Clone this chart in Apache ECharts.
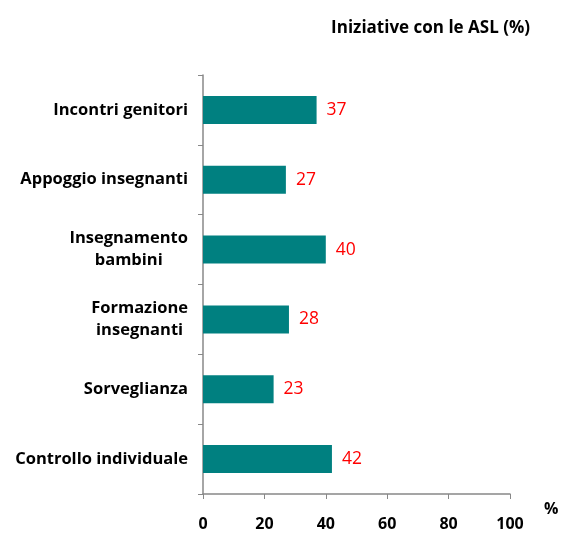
<!DOCTYPE html>
<html><head><meta charset="utf-8">
<script src="https://cdn.jsdelivr.net/npm/echarts@6/dist/echarts.min.js"></script>
<style>html,body{margin:0;padding:0;background:#fff;overflow:hidden}#c{width:562px;height:533px}</style>
</head><body><div id="c"></div>
<script>
const categories = ["Incontri genitori", "Appoggio insegnanti", "Insegnamento\nbambini", "Formazione\ninsegnanti", "Sorveglianza", "Controllo individuale"];
const values = [37, 27, 40, 28, 23, 42];
const xTicks = [0, 20, 40, 60, 80, 100];
const titleText = "Iniziative con le ASL (%)";
const axisUnit = "%";

const chart = echarts.init(document.getElementById('c'), null, {renderer: 'canvas', width: 562, height: 533});
const font = '"Open Sans", sans-serif';
chart.setOption({
  animation: false,
  title: {text: titleText, right: 27, top: 15, textStyle: {fontFamily: font, fontWeight: 'bold', fontSize: 17, color: '#000'}},
  grid: {left: 203, right: 52, top: 75, bottom: 39, containLabel: false, outerBoundsMode: 'none'},
  xAxis: {
    type: 'value', min: xTicks[0], max: xTicks[xTicks.length-1], interval: 20,
    name: axisUnit, nameLocation: 'end', nameGap: 0,
    nameTextStyle: {fontFamily: font, fontWeight: 'bold', fontSize: 16, color: '#000', align: 'left', verticalAlign: 'top', padding: [7, 0, 0, 34]},
    axisLine: {show: true, lineStyle: {color: '#888', width: 1.5}},
    axisTick: {show: true, length: 5, lineStyle: {color: '#888'}},
    splitLine: {show: false},
    axisLabel: {fontFamily: font, fontWeight: 'bold', fontSize: 16, color: '#000', margin: 22}
  },
  yAxis: {
    type: 'category', data: categories, inverse: true,
    axisLine: {show: true, lineStyle: {color: '#888', width: 1.5}},
    axisTick: {show: true, length: 5, inside: false, lineStyle: {color: '#888'}},
    axisLabel: {
      fontFamily: font, fontWeight: 'bold', fontSize: 16.5, color: '#000', margin: 15, align: 'right', lineHeight: 22,
      formatter: v => v.split('\n').map(s => '{c|' + s + '}').join('\n'),
      rich: {c: {align: 'center', fontFamily: font, fontWeight: 'bold', fontSize: 16.5, color: '#000', lineHeight: 22}}
    }
  },
  series: [{
    type: 'bar', data: values, barWidth: 28,
    itemStyle: {color: '#008080'},
    label: {show: true, position: 'right', distance: 10, fontFamily: font, fontSize: 17.5, color: '#ff0000'}
  }]
});
</script></body></html>
